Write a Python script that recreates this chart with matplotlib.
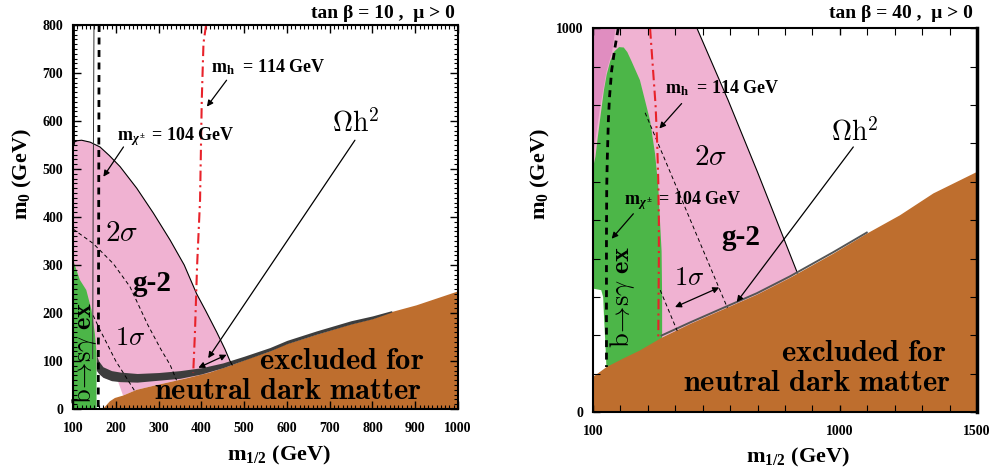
import matplotlib
matplotlib.use("Agg")
import matplotlib.pyplot as plt
from matplotlib.ticker import MultipleLocator, FixedLocator

# ----------------------------
# FONTS
# ----------------------------
plt.rcParams['font.family'] = ['Liberation Serif', 'DejaVu Serif']
plt.rcParams['font.weight'] = 'bold'
plt.rcParams['mathtext.fontset'] = 'custom'
plt.rcParams['mathtext.rm'] = 'Liberation Serif:bold'
plt.rcParams['mathtext.bf'] = 'Liberation Serif:bold'
plt.rcParams['mathtext.it'] = 'Liberation Serif:italic:bold'

PINK = '#F0B2D2'
DPINK = '#E08DC0'
GREEN = '#4CB648'
BROWN = '#BE6E2E'
BAND = '#3D3D3D'
RED = '#E8222A'

# ----------------------------
# DATA  (tan beta = 10)
# ----------------------------
l_brown_x = [170, 186, 198, 217, 249, 296, 366, 420, 467, 514, 560, 592, 670, 748, 802, 841, 903, 1000]
l_brown_y = [0, 16, 23, 28, 40, 50, 64, 76, 90, 106, 120, 133, 155, 176, 188, 201, 216, 245]

l_band_x = [155, 160, 170, 190, 210, 250, 300, 350, 400, 450, 500, 560, 600, 670, 750, 800, 845]
l_band_lo = [80, 74, 66, 59, 57, 56, 60, 64, 73, 86, 102, 121, 136, 156, 177, 188, 202]
l_band_hi = [112, 100, 88, 80, 77, 74, 76, 80, 86, 96, 110, 128, 143, 163, 184, 194, 205]

l_g2_x = [100, 110, 120, 140, 163, 185, 210, 249, 288, 327, 360, 389, 410, 436, 455, 467, 472]
l_g2_y = [555, 559, 560, 556, 546, 528, 505, 460, 408, 352, 300, 240, 205, 160, 125, 100, 92]

l_green_x = [100, 116, 131, 143, 151, 155, 155]
l_green_y = [311, 269, 248, 207, 158, 117, 0]

l_1s_a_x = [100, 147, 194, 233, 275, 305, 327, 342]
l_1s_a_y = [375, 345, 303, 255, 175, 125, 92, 60]
l_1s_b_x = [147, 163, 200, 244]
l_1s_b_y = [195, 165, 100, 38]

l_mh_x = [411, 405, 401, 397, 390, 385, 381]
l_mh_y = [800, 762, 644, 436, 297, 158, 75]

l_chi_x = [161, 160, 159]
l_chi_y = [800, 400, 0]

l_thin_x = [149, 147, 146]
l_thin_y = [800, 400, 105]

l_edge_x = [101, 101]
l_edge_y = [800, 555]

# ----------------------------
# DATA  (tan beta = 40)
# ----------------------------
r_brown_x = [100, 150, 210, 271, 350, 454, 575, 697, 818, 976, 1098, 1219, 1341, 1500]
r_brown_y = [92, 118, 140, 161, 194, 230, 268, 306, 350, 413, 465, 513, 570, 626]

r_g2_x = [100, 479, 593, 700, 845]
r_g2_y = [1000, 1000, 812, 625, 363]

r_dpink_x = [100, 182, 170, 150, 125, 105, 100]
r_dpink_y = [1000, 1000, 940, 890, 790, 690, 660]

r_green_x = [101, 109, 118, 127, 140, 150, 163, 178, 195, 212, 225, 240, 271, 308, 326, 338, 344,
             350, 352, 352, 150, 145, 140, 137, 130, 101]
r_green_y = [640, 666, 720, 770, 840, 880, 915, 940, 951, 950, 938, 915, 865, 760, 674, 587, 500,
             420, 300, 150, 100, 180, 250, 300, 318, 322]

r_band_x = [350, 454, 575, 697, 818, 976, 1098]
r_band_y = [200, 234, 272, 310, 354, 417, 468]

r_1s_a_x = [290, 590]
r_1s_a_y = [780, 272]
r_1s_b_x = [345, 407]
r_1s_b_y = [318, 212]

r_mh_x = [308, 318, 328, 334, 338, 340, 340, 339, 338]
r_mh_y = [1000, 900, 800, 700, 600, 500, 400, 300, 196]

r_chi_x = [192, 180, 168, 160, 156, 152, 150, 149, 149, 149]
r_chi_y = [1000, 950, 891, 820, 760, 660, 587, 450, 300, 118]


def arrow(ax, xy, xytext, both=False):
    ax.annotate('', xy=xy, xytext=xytext,
                arrowprops=dict(arrowstyle='<|-|>' if both else '-|>', color='k',
                                lw=0.9, mutation_scale=9, shrinkA=0, shrinkB=0))


def style(ax, lx, ly, bx, by):
    ax.tick_params(which='both', direction='in', top=True, right=True, labelsize=10)
    ax.tick_params(axis='x', which='major', pad=9)
    ax.tick_params(axis='y', which='major', pad=7)
    ax.tick_params(which='major', length=6, width=1)
    ax.tick_params(which='minor', length=3, width=0.8)
    for s in ax.spines.values():
        s.set_linewidth(1.5)
    for lab in ax.get_xticklabels() + ax.get_yticklabels():
        lab.set_fontweight('bold')
    ax.set_xlabel(r'$\mathbf{m_{1/2}}$ (GeV)', fontsize=16, fontweight='bold', va='center')
    ax.set_ylabel(r'$\mathbf{m_0}$ (GeV)', fontsize=16, fontweight='bold', va='center')
    ax.xaxis.set_label_coords(bx, by)
    ax.yaxis.set_label_coords(lx, ly)


fig = plt.figure(figsize=(9.92, 4.74), dpi=100)

# ----------------------------
# LEFT PANEL
# ----------------------------
ax = fig.add_axes([0.0736, 0.1371, 0.3881, 0.8101])

pink_x = l_g2_x + l_brown_x[8:2:-1] + [205] + l_band_x[3::-1] + [100]
pink_y = l_g2_y + l_brown_y[8:2:-1] + [58] + l_band_lo[3::-1] + [80]
ax.fill(pink_x, pink_y, color=PINK, lw=0)
ax.plot(l_g2_x, l_g2_y, color='k', lw=0.8)

ax.fill(l_green_x + [100], l_green_y + [0], color=GREEN, lw=0)
ax.fill(l_brown_x + [1000], l_brown_y + [0], color=BROWN, lw=0)
ax.fill_between(l_band_x, l_band_lo, l_band_hi, color=BAND, lw=0)

ax.plot(l_1s_a_x, l_1s_a_y, color='k', lw=0.7, dashes=(4, 3))
ax.plot(l_1s_b_x, l_1s_b_y, color='k', lw=0.7, dashes=(4, 3))
ax.plot(l_thin_x, l_thin_y, color='#333333', lw=0.7)
ax.plot(l_edge_x, l_edge_y, color='k', lw=2)
ax.plot(l_chi_x, l_chi_y, color='k', lw=2, dashes=(2.5, 2))
ax.plot(l_mh_x, l_mh_y, color=RED, lw=1.5, dashes=(5, 2, 1, 2))

ax.text(422, 712, r'm$_\mathbf{h}$  = 114 GeV', fontsize=13, va='center')
arrow(ax, (413, 630), (459, 685))
ax.text(202, 567, r'm$_{\chi^\pm}$ = 104 GeV', fontsize=13, va='center')
arrow(ax, (171, 484), (218, 546))
ax.text(214, 366, r'$\mathbf{2}\sigma$', math_fontfamily='cm', fontsize=21, ha='center', va='center')
ax.text(285, 262, 'g-2', fontsize=21, ha='center', va='center')
ax.text(233, 147, r'$1\sigma$', math_fontfamily='cm', fontsize=19, ha='center', va='center')
ax.text(761, 595, r'$\Omega\mathrm{h}^2$', math_fontfamily='cm', fontsize=20, ha='center', va='center')
arrow(ax, (416, 106), (759, 560))
arrow(ax, (393, 86), (459, 113), both=True)
ax.text(128, 117, r'$\mathrm{b}\!\rightarrow\!\mathrm{s}\gamma\ \mathbf{ex}$', math_fontfamily='cm',
        fontsize=19, rotation=90, ha='center', va='center')
ax.text(727, 99, r'$\mathbf{excluded\ for}$', math_fontfamily='cm', fontsize=22, ha='center', va='center')
ax.text(603, 36, r'$\mathbf{neutral\ dark\ matter}$', math_fontfamily='cm', fontsize=22,
        ha='center', va='center')

ax.set_xlim(100, 1000)
ax.set_ylim(0, 800)
ax.xaxis.set_major_locator(MultipleLocator(100))
ax.xaxis.set_minor_locator(MultipleLocator(10))
ax.yaxis.set_major_locator(MultipleLocator(100))
ax.yaxis.set_minor_locator(MultipleLocator(10))
style(ax, -0.132, 0.612, 0.535, -0.12)
fig.text(0.4587, 0.972, 'tan β = 10 ,  μ > 0', fontsize=14, ha='right', va='center')

# ----------------------------
# RIGHT PANEL
# ----------------------------
ax = fig.add_axes([0.5978, 0.1302, 0.3871, 0.8101])

pink_x = r_g2_x + r_brown_x[8:3:-1] + [101]
pink_y = r_g2_y + r_brown_y[8:3:-1] + [640]
ax.fill(pink_x, pink_y, color=PINK, lw=0)
ax.plot(r_g2_x[1:], r_g2_y[1:], color='k', lw=0.8)
ax.fill(r_dpink_x, r_dpink_y, color=DPINK, lw=0)
ax.fill(r_green_x, r_green_y, color=GREEN, lw=0)
ax.fill(r_brown_x + [1500, 100], r_brown_y + [0, 0], color=BROWN, lw=0)
ax.plot(r_band_x, r_band_y, color='#555555', lw=1.4)

ax.plot(r_1s_a_x, r_1s_a_y, color='k', lw=0.7, dashes=(4, 3))
ax.plot(r_1s_b_x, r_1s_b_y, color='k', lw=0.7, dashes=(4, 3))
ax.plot(r_chi_x, r_chi_y, color='k', lw=2, dashes=(2.5, 2))
ax.plot(r_mh_x, r_mh_y, color=RED, lw=1.5, dashes=(5, 2, 1, 2))

ax.text(362, 844, r'm$_\mathbf{h}$  = 114 GeV', fontsize=13, va='center')
arrow(ax, (342, 739), (423, 804))
ax.text(213, 552, r'm$_{\chi^\pm}$ = 104 GeV', fontsize=13, va='center')
arrow(ax, (168, 452), (247, 517))
ax.text(530, 664, r'$\mathbf{2}\sigma$', math_fontfamily='cm', fontsize=21, ha='center', va='center')
ax.text(640, 456, 'g-2', fontsize=21, ha='center', va='center')
ax.text(450, 349, r'$1\sigma$', math_fontfamily='cm', fontsize=19, ha='center', va='center')
arrow(ax, (399, 274), (560, 325), both=True)
ax.text(1055, 729, r'$\Omega\mathrm{h}^2$', math_fontfamily='cm', fontsize=20, ha='center', va='center')
arrow(ax, (624, 287), (1049, 691))
ax.text(209, 300, r'$\mathrm{b}\!\rightarrow\!\mathrm{s}\gamma\ \mathbf{ex}$', math_fontfamily='cm',
        fontsize=19, rotation=90, ha='center', va='center')
ax.text(1085, 153, r'$\mathbf{excluded\ for}$', math_fontfamily='cm', fontsize=22, ha='center', va='center')
ax.text(917, 75, r'$\mathbf{neutral\ dark\ matter}$', math_fontfamily='cm', fontsize=22,
        ha='center', va='center')

ax.set_xlim(100, 1500)
ax.set_ylim(0, 1000)
ax.xaxis.set_major_locator(FixedLocator([100, 1000, 1500]))
ax.xaxis.set_minor_locator(MultipleLocator(100))
ax.yaxis.set_major_locator(FixedLocator([0, 1000]))
ax.yaxis.set_minor_locator(MultipleLocator(100))
style(ax, -0.138, 0.62, 0.534, -0.117)
ax.tick_params(which='both', length=5)
ax.spines['right'].set_linewidth(2.5)
fig.text(0.981, 0.972, 'tan β = 40 ,  μ > 0', fontsize=14, ha='right', va='center')

fig.savefig('out.png', dpi=100)
